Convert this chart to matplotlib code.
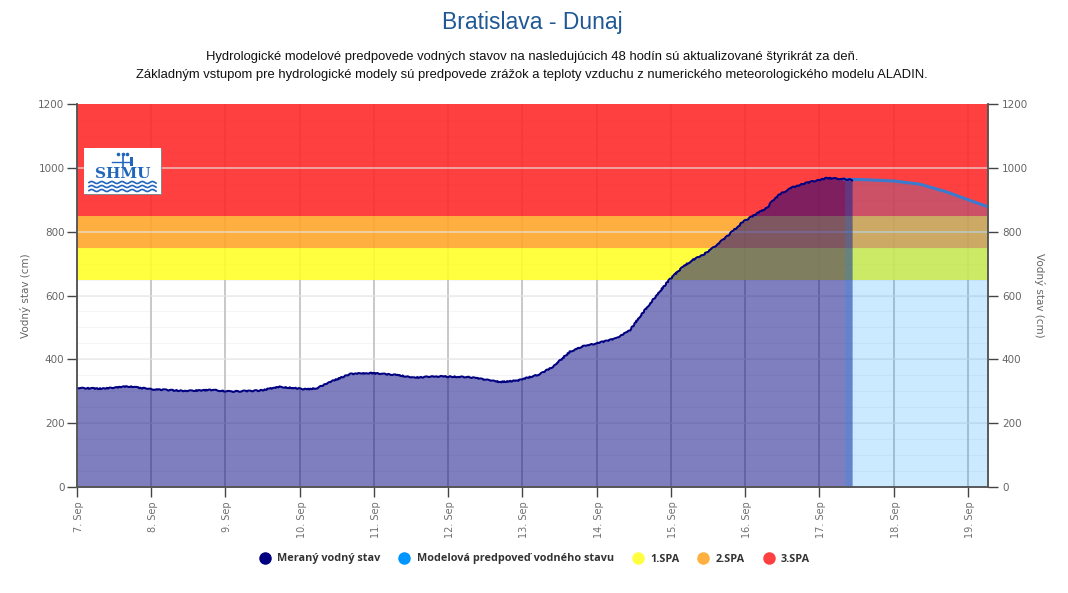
import numpy as np
import matplotlib
matplotlib.use("Agg")
import matplotlib.pyplot as plt
from matplotlib.lines import Line2D
from matplotlib.patches import Rectangle
from matplotlib.transforms import ScaledTranslation

W, H = 1068, 593
TITLE = "Bratislava - Dunaj"
SUB1 = "Hydrologické modelové predpovede vodných stavov na nasledujúcich 48 hodín sú aktualizované štyrikrát za deň."
SUB2 = "Základným vstupom pre hydrologické modely sú predpovede zrážok a teploty vzduchu z numerického meteorologického modelu ALADIN."
YLABEL = "Vodný stav (cm)"

day_labels = ["7. Sep", "8. Sep", "9. Sep", "10. Sep", "11. Sep", "12. Sep", "13. Sep",
              "14. Sep", "15. Sep", "16. Sep", "17. Sep", "18. Sep", "19. Sep"]

# days since 7 Sep
meas_t = [0, .35, .69, .98, 1.43, 1.83, 2.06, 2.46, 2.73, 3.10, 3.23, 3.45, 3.68, 3.95, 4.32,
          4.53, 4.79, 5.29, 5.70, 5.93, 6.24, 6.41, 6.64, 6.80, 7.0, 7.27, 7.45, 7.58, 7.81, 7.99,
          8.16, 8.29, 8.43, 8.56, 8.75, 8.97, 9.16, 9.29, 9.36, 9.47, 9.64, 9.83, 10.10, 10.32, 10.44]
meas_v = [310, 308, 315, 307, 301, 304, 299, 302, 314, 306, 310, 333, 354, 357, 351,
          342, 347, 344, 329, 333, 354, 377, 424, 440, 450, 466, 492, 534, 602, 652,
          690, 711, 727, 748, 784, 831, 857, 874, 894, 918, 939, 953, 968, 965, 962]
fc_t = [10.34, 10.59, 10.99, 11.35, 11.72, 11.99, 12.27]
fc_v = [964, 963, 959, 949, 924, 901, 878]

spa_names = ["1.SPA", "2.SPA", "3.SPA"]
spa_low = [650, 750, 850]
spa_high = [750, 850, 1200]
spa_colors = ["#ffff00", "#ff9500", "#ff0000"]

fig = plt.figure(figsize=(W / 100, H / 100), dpi=100)
ax = fig.add_axes([77 / W, (H - 487) / H, 911 / W, 383 / H])
ax.set_xlim(0, 12.27)
ax.set_ylim(0, 1200)

ticks = list(range(len(day_labels)))
ax.vlines(ticks, 0, spa_low[0], color="#c4c4c4", lw=1.3, zorder=0.5)
ax.vlines(ticks, spa_low[0], 1200, color="#e4e4e4", lw=1.3, zorder=0.5)
ax.hlines(np.arange(50, 1200, 50), 0, 12.27, color="#f5f5f5", lw=0.8, zorder=0.4)
for n, lo, hi, c in zip(spa_names, spa_low, spa_high, spa_colors):
    ax.axhspan(lo, hi, color=c, alpha=0.75, lw=0, zorder=1)
ax.hlines(range(200, 1200, 200), 0, 12.27, color="#e6e6e6", lw=1.2, alpha=0.7, zorder=1.6)

ax.fill_between(meas_t, meas_v, 0, color="#000080", alpha=0.5, lw=0, zorder=2)
ax.fill_between(fc_t, fc_v, 0, color="#0096ff", alpha=0.2, lw=0, zorder=2.1)
ax.plot(fc_t, fc_v, color="#3a7bd0", lw=2.2, zorder=3)
line, = ax.plot(meas_t, meas_v, color="#000080", lw=1.5, zorder=3.1)
line.set_sketch_params(scale=0.5, length=6, randomness=4)

ax.set_xticks(ticks)
ax.set_xticklabels(day_labels, rotation=90, fontsize=7, color="#707070", family="DejaVu Sans")
ax.set_yticks(range(0, 1201, 200))
ax.tick_params(axis="x", length=7, width=1.0, color="#444444", pad=3)
ax.tick_params(axis="y", length=7, width=1.0, color="#444444", pad=2, labelsize=7.5, labelcolor="#666666")
shift = ScaledTranslation(2 / 100, 0, fig.dpi_scale_trans)
for lab in ax.get_xticklabels():
    lab.set_transform(lab.get_transform() + shift)
ax.set_ylabel(YLABEL, fontsize=7.5, color="#666666", labelpad=5, family="DejaVu Sans")
ax.spines["top"].set_visible(False)
for s in ["left", "right", "bottom"]:
    ax.spines[s].set_color("#555555")
    ax.spines[s].set_linewidth(1.1)

ax2 = ax.twinx()
ax2.set_ylim(0, 1200)
ax2.set_yticks(range(0, 1201, 200))
ax2.tick_params(axis="y", length=7, width=1.0, color="#444444", pad=3, labelsize=7.5, labelcolor="#666666")
ax2.set_ylabel(YLABEL, fontsize=7.5, color="#666666", rotation=270, labelpad=12, family="DejaVu Sans")
ax2.spines["top"].set_visible(False)
for s in ["left", "right", "bottom"]:
    ax2.spines[s].set_color("#555555")
    ax2.spines[s].set_linewidth(1.1)

# titles
fig.text(532 / W, 1 - 22 / H, TITLE, ha="center", va="center", fontsize=16.5, color="#1f5894",
         family="Liberation Sans")
fig.text(532 / W, 1 - 57 / H, SUB1, ha="center", va="center", fontsize=9.33, color="#111111", family="Liberation Sans")
fig.text(532 / W, 1 - 75 / H, SUB2, ha="center", va="center", fontsize=9.33, color="#111111", family="Liberation Sans")

# logo
shadow = Rectangle((85 / W, 1 - 195 / H), 77 / W, 46 / H, transform=fig.transFigure,
                   fc="#888888", ec="none", zorder=5)
fig.add_artist(shadow)
logo = fig.add_axes([84 / W, 1 - 194 / H, 77 / W, 46 / H], zorder=6)
logo.set_xlim(0, 77)
logo.set_ylim(46, 0)
logo.set_facecolor("white")
logo.set_xticks([])
logo.set_yticks([])
for s in logo.spines.values():
    s.set_visible(False)
blue = "#2166bd"
logo.text(38.5, 25.5, "SHMU", ha="center", va="center", fontsize=11, fontweight="bold",
          family="DejaVu Serif", color=blue)
wx = np.linspace(5, 72, 120)
for wy in (34.5, 38.5, 42.5):
    logo.plot(wx, wy + 1.0 * np.sin(wx * 0.62), color=blue, lw=1.2)
logo.plot([28, 47], [13.7, 13.7], color=blue, lw=1)
logo.plot([38.7, 38.7], [6, 19], color=blue, lw=1.2)
logo.plot([34, 39, 43], [6, 6, 6], color=blue, ls="", marker="o", ms=2.6, mew=0)
logo.add_patch(Rectangle((46, 9), 3, 8.5, fc=blue, ec="none"))

# legend
handles = [Line2D([], [], ls="", marker="o", ms=8, color="#000080", label="Meraný vodný stav"),
           Line2D([], [], ls="", marker="o", ms=8, color="#0096ff", label="Modelová predpoveď vodného stavu")]
for n, c in zip(spa_names, ["#ffff40", "#ffb040", "#ff4040"]):
    handles.append(Line2D([], [], ls="", marker="o", ms=8, color=c, label=n))
fig.legend(handles=handles, loc="center", bbox_to_anchor=(533 / W, 1 - 559 / H), ncol=5, frameon=False,
           prop={"family": "Open Sans", "weight": "bold", "size": 7.8}, labelcolor="#333333",
           handletextpad=0.35, columnspacing=1.4, handlelength=1.6)

fig.savefig("out.png", dpi=100)
